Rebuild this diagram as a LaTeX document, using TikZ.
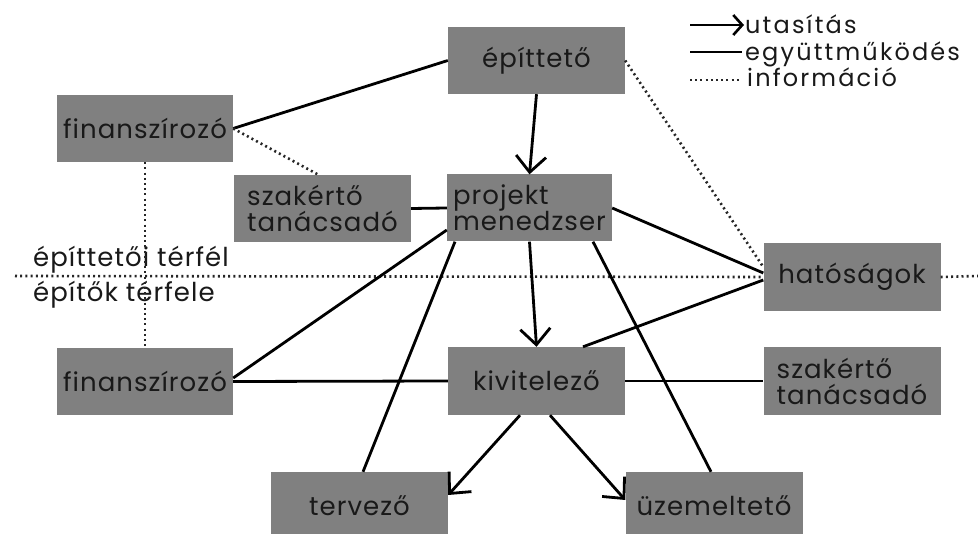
\documentclass[tikz,border=0pt]{standalone}
\usepackage{fontspec}
\setmainfont[LetterSpace=4]{Poppins}
\newfontfamily\legfont[LetterSpace=9]{Poppins}
\usetikzlibrary{arrows.meta}
\definecolor{boxgray}{RGB}{128,128,128}
\definecolor{txt}{RGB}{25,25,25}
\begin{document}
\begin{tikzpicture}[x=1pt,y=-1pt,
  box/.style={fill=boxgray,minimum width=177pt,minimum height=67pt,inner sep=0pt,text=txt,font=\fontsize{26}{26}\selectfont},
  twoline/.style={align=left,font=\fontsize{26}{26}\selectfont},
  conn/.style={line width=2.8pt,draw=black},
  dots/.style={line width=2.6pt,draw=black!85,dash pattern=on 2pt off 3.2pt},
  arr/.style={conn,-{Straight Barb[length=16pt,width=30pt,line width=2.8pt]}},
  lbl/.style={text=txt,inner sep=0pt,font=\fontsize{26}{26}\selectfont},
  leg/.style={text=txt,inner sep=0pt,font=\legfont\fontsize{24}{24}\selectfont}]
\useasboundingbox (0,0) rectangle (978,534);
% nodes
\node[box] (ep) at (536.5,60.5) {építtető};
\node[box,minimum width=176pt] (fin1) at (145,128.5) {finanszírozó};
\node[box,twoline] (sz1) at (322.5,208.5) {szakértő\\tanácsadó};
\node[box,twoline,minimum width=165pt] (pm) at (529.5,208) {projekt\\menedzser};
\node[box,minimum height=68pt] (hat) at (852,277) {hatóságok};
\node[box,minimum width=176pt,minimum height=67pt] (fin2) at (145,381.5) {finanszírozó};
\node[box,minimum height=68pt] (kiv) at (536.5,381) {kivitelező};
\node[box,twoline,minimum height=68pt] (sz2) at (852,381) {szakértő\\tanácsadó};
\node[box,minimum height=68pt] (terv) at (359.5,506) {tervező};
\node[box,minimum height=68pt] (uz) at (714,506) {üzemeltető};
% side labels
\node[lbl,anchor=base west] (t1) at (33,267) {építtetői térfél};
\node[lbl,anchor=base west] (t2) at (33,302) {építők térfele};
% dividing line
\coordinate (hl) at (15,276);
\coordinate (hr) at (978,276);
\draw[dots] (hl) -- (hat.west);
\draw[dots] (hat.east) -- (hr);
% connectors
\draw[conn] (fin1.east) -- (ep.west);
\draw[dots] (fin1.east) -- ([xshift=-4pt]sz1.north);
\draw[dots] (fin1.south) -- (fin2.north);
\draw[conn] (sz1.east) -- (pm.west);
\draw[arr] (ep.south) -- (pm.north);
\draw[dots] (ep.east) -- ([yshift=10pt]hat.west);
\draw[conn] (pm.east) -- ([yshift=4pt]hat.west);
\draw[conn] ([yshift=-3pt]hat.west) -- ([xshift=46.5pt]kiv.north);
\draw[arr] (pm.south) -- (kiv.north);
\draw[conn] ([yshift=-22pt]pm.west) -- ([yshift=3.5pt]fin2.east);
\draw[conn] ([xshift=-74.5pt]pm.south) -- ([xshift=3.5pt]terv.north);
\draw[conn] ([xshift=63.5pt]pm.south) -- ([xshift=-3pt]uz.north);
\draw[conn] (fin2.east) -- (kiv.west);
\draw[conn] (kiv.east) -- (sz2.west);
\draw[arr] ([xshift=-16.5pt]kiv.south) -- ([yshift=11pt]terv.east);
\draw[arr] ([xshift=13.5pt]kiv.south) -- ([yshift=6pt]uz.west);
% legend
\node[leg,anchor=base west] (l1) at (745,34) {utasítás};
\node[leg,anchor=base west] (l2) at (745,61) {együttműködés};
\node[leg,anchor=base west] (l3) at (747,87) {információ};
\coordinate (a1) at (690,25);
\coordinate (a2) at (690,52);
\coordinate (a3) at (690,80);
\draw[conn,-{Straight Barb[length=9pt,width=20pt,line width=2.6pt]}] (a1) -- ([xshift=-1pt]l1.west |- a1);
\draw[conn] (a2) -- ([xshift=-3pt]l2.west |- a2);
\draw[dots] (a3) -- ([xshift=-6pt]l3.west |- a3);
\end{tikzpicture}
\end{document}
